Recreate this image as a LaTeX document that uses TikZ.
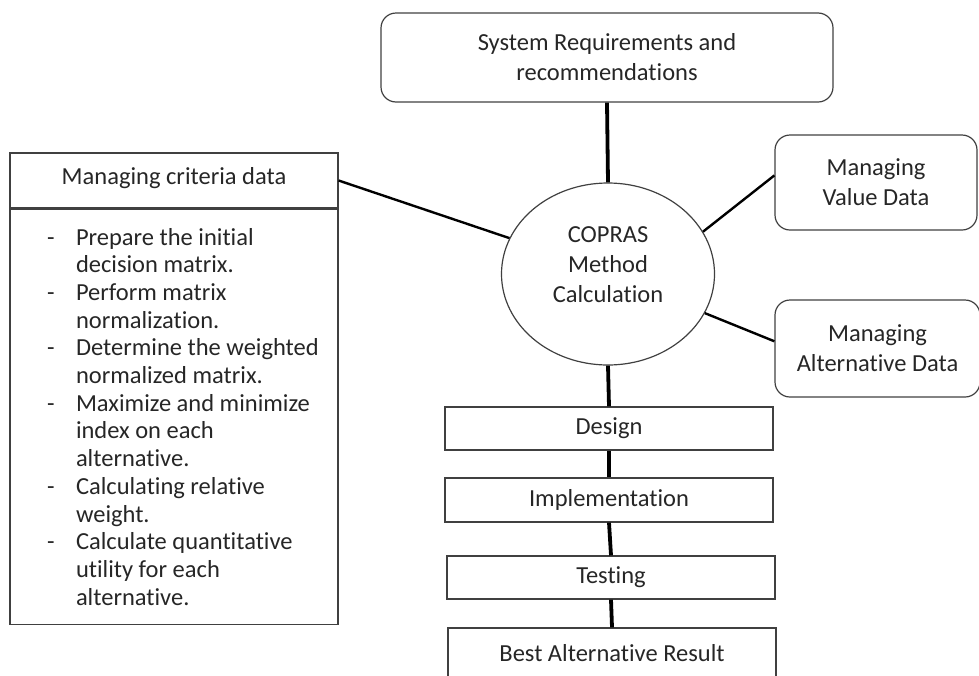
\documentclass[tikz,border=0pt]{standalone}
\usepackage{fontspec}
\setmainfont[Ligatures=NoCommon]{Carlito}
\usetikzlibrary{shapes.geometric}
\newcommand\diagfont{\fontsize{24.5}{30}\selectfont}
\newcommand\listfont{\fontsize{24.5}{27.7}\selectfont}
\newenvironment{critlist}{\begin{list}{-}{\setlength\leftmargin{29pt}\setlength\labelwidth{29pt}\setlength\labelsep{0pt}\setlength\itemsep{0pt}\setlength\parsep{0pt}\setlength\topsep{0pt}\setlength\partopsep{0pt}\renewcommand\makelabel[1]{##1\hfil}}}{\end{list}}
\tikzset{
  box/.style={draw=black!75, line width=1.2pt, text=black!85, align=center, inner sep=0pt, font=\diagfont},
  roundbox/.style={box, rounded corners=15pt},
  stage/.style={box, minimum width=328pt, minimum height=43pt},
  link/.style={line width=2.4pt},
  spine/.style={line width=3.8pt},
}
\begin{document}
\begin{tikzpicture}[x=1pt, y=-1pt]
  \useasboundingbox (0,0) rectangle (979,675);
  % centre and the boxes round it
  \node[roundbox, minimum width=452pt, minimum height=89pt] (sysreq) at (607,57.5) {System Requirements and\\recommendations};
  \node[box, ellipse, minimum width=213pt, minimum height=182pt] (copras) at (608,274) {COPRAS\\Method\\Calculation\\[-12pt]\mbox{}};
  \node[roundbox, minimum width=202pt, minimum height=95pt] (valdata) at (876,182.5) {Managing\\Value Data};
  \node[roundbox, minimum width=205pt, minimum height=97pt] (altdata) at (877.5,348.5) {Managing\\Alternative Data};
  % criteria box
  \node[box, minimum width=328pt, minimum height=55pt, text depth=10pt] (crittitle) at (174,180.5) {Managing criteria data};
  \node[box, minimum width=328pt, minimum height=415pt, anchor=north, font=\listfont] (critbody) at (crittitle.south)
    {\hspace{37pt}\parbox{291pt}{\raggedright
      \begin{critlist}
        \item Prepare the initial\\decision matrix.
        \item Perform matrix\\normalization.
        \item Determine the weighted\\normalized matrix.
        \item Maximize and minimize\\index on each\\alternative.
        \item Calculating relative\\weight.
        \item Calculate quantitative\\utility for each\\alternative.
      \end{critlist}}};
  % stages
  \node[stage] (design) at (609,428.5) {Design};
  \node[stage, minimum height=44pt] (impl) at (609,500) {Implementation};
  \node[stage] (testing) at (611,577.5) {Testing};
  \node[stage, minimum height=50pt] (best) at (612,653) {Best Alternative Result};
  \begin{scope}[-]
    \draw[spine] (sysreq.south) -- (copras.north);
    \draw[link] (crittitle.east) -- (copras.160);
    \draw[link] (copras.24) -- (valdata.176);
    \draw[link] (copras.338) -- (altdata.176);
    \draw[spine] (copras.south) -- (design.north);
    \draw[spine] (design.south) -- (impl.north);
    \draw[spine] (impl.south) -- (testing.north);
    \draw[spine] (testing.south) -- (best.north);
  \end{scope}
\end{tikzpicture}
\end{document}
